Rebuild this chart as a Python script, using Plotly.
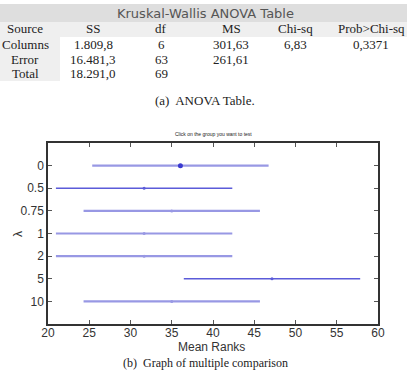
import plotly.graph_objects as go

# ---- data ----
groups = ["0", "0.5", "0.75", "1", "2", "5", "10"]
mean_ranks = [36.05, 31.65, 35.0, 31.65, 31.65, 47.15, 35.0]
half_width = [10.69, 10.69, 10.69, 10.69, 10.69, 10.69, 10.69]

tbl_header = ["Source", "SS", "df", "MS", "Chi-sq", "Prob>Chi-sq"]
tbl_rows = [
    ["Columns", "1.809,8", "6", "301,63", "6,83", "0,3371"],
    ["Error", "16.481,3", "63", "261,61", "", ""],
    ["Total", "18.291,0", "69", "", "", ""],
]

W, H = 407, 370
def py(p):  # pixel y -> paper y
    return 1 - p / H
def px(p):
    return p / W

fig = go.Figure()

for i, g in enumerate(groups):
    dark = g in ("0.5", "5")
    col = "#5b5bd9" if dark else "#9898e4"
    fig.add_trace(go.Scatter(
        x=[mean_ranks[i] - half_width[i], mean_ranks[i] + half_width[i]],
        y=[g, g], mode="lines",
        line=dict(color=col, width=1.3 if dark else 2.2),
        showlegend=False, hoverinfo="skip"))
    fig.add_trace(go.Scatter(
        x=[mean_ranks[i]], y=[g], mode="markers",
        marker=dict(color="#3a3ad0" if i == 0 else col,
                    size=5 if i == 0 else 3),
        showlegend=False))

fig.update_layout(
    width=W, height=H, autosize=False,
    margin=dict(l=0, r=0, t=0, b=0),
    paper_bgcolor="white", plot_bgcolor="white",
    font=dict(family="Liberation Sans, Arial, sans-serif", color="#333", size=12),
    xaxis=dict(domain=[px(48), px(378)], range=[20, 60], tickvals=[20, 25, 30, 35, 40, 45, 50, 55, 60],
               ticks="inside", ticklen=4, tickcolor="#555", showline=True, linecolor="#333",
               linewidth=1.5, mirror="ticks", showgrid=False, zeroline=False, automargin=False,
               ticklabelstandoff=-3,
               tickfont=dict(size=12, color="#333")),
    yaxis=dict(domain=[py(324), py(143)], type="category", categoryorder="array",
               categoryarray=groups, range=[7, -1], automargin=False,
               ticks="inside", ticklen=4, tickcolor="#555", showline=True, linecolor="#333",
               linewidth=1.5, mirror="ticks", showgrid=False, zeroline=False,
               tickfont=dict(size=12, color="#333")),
)

shapes = []
shapes.append(dict(type="rect", xref="paper", yref="paper", x0=0, x1=1, y0=py(22), y1=py(4),
                   fillcolor="#dedede", line=dict(width=0), layer="below"))
shapes.append(dict(type="rect", xref="paper", yref="paper", x0=0, x1=1, y0=py(37), y1=py(22),
                   fillcolor="#efefef", line=dict(width=0), layer="below"))
shapes.append(dict(type="rect", xref="paper", yref="paper", x0=0, x1=px(60), y0=py(81), y1=py(37),
                   fillcolor="#efefef", line=dict(width=0), layer="below"))
fig.update_layout(shapes=shapes)

ann = []
ann.append(dict(text="Kruskal-Wallis ANOVA Table", x=px(205), y=py(13.5), xref="paper", yref="paper",
                showarrow=False, xanchor="center", yanchor="middle",
                font=dict(family="DejaVu Sans, sans-serif", size=13, color="#555")))
col_x = [25, 93, 161, 231, 295, 371]
row_y = [29, 44, 59, 73]
serif = "Liberation Serif, DejaVu Serif, serif"
for j, h in enumerate(tbl_header):
    ann.append(dict(text=h, x=px(col_x[j]), y=py(row_y[0]), xref="paper", yref="paper",
                    showarrow=False, xanchor="center", yanchor="middle",
                    font=dict(family=serif, size=13, color="#222")))
for r, row in enumerate(tbl_rows):
    for j, v in enumerate(row):
        if v == "":
            continue
        ann.append(dict(text=v, x=px(col_x[j]), y=py(row_y[r + 1]), xref="paper", yref="paper",
                        showarrow=False, xanchor="center", yanchor="middle",
                        font=dict(family=serif, size=13, color="#222")))
ann.append(dict(text="(a)  ANOVA Table.", x=px(205), y=py(100), xref="paper", yref="paper",
                showarrow=False, xanchor="center", yanchor="middle",
                font=dict(family=serif, size=13, color="#222")))
ann.append(dict(text="Click on the group you want to test", x=px(213), y=py(134), xref="paper", yref="paper",
                showarrow=False, xanchor="center", yanchor="middle",
                font=dict(family="Liberation Sans, Arial, sans-serif", size=5, color="#222")))
ann.append(dict(text="Mean Ranks", x=px(211), y=py(347), xref="paper", yref="paper",
                showarrow=False, xanchor="center", yanchor="middle",
                font=dict(family="Liberation Sans, Arial, sans-serif", size=12, color="#333")))
ann.append(dict(text="λ", x=px(18), y=py(234), xref="paper", yref="paper", textangle=-90,
                showarrow=False, xanchor="center", yanchor="middle",
                font=dict(family="Liberation Sans, Arial, sans-serif", size=12, color="#333")))
ann.append(dict(text="(b)  Graph of multiple comparison", x=px(205), y=py(363), xref="paper", yref="paper",
                showarrow=False, xanchor="center", yanchor="middle",
                font=dict(family=serif, size=12, color="#222")))
fig.update_layout(annotations=ann)

fig.write_html("out.html")
